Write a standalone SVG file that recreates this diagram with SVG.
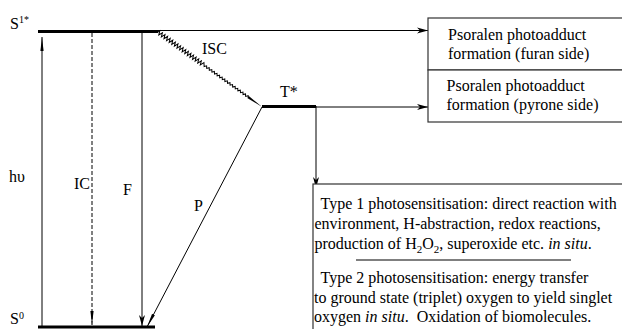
<svg xmlns="http://www.w3.org/2000/svg" width="622" height="329" viewBox="0 0 622 329" font-family="'Liberation Serif', 'DejaVu Serif', serif">
<style>
text{font-family:'Liberation Serif','DejaVu Serif',serif;font-size:16px;fill:#000}
.ln{stroke:#000;stroke-width:1;fill:none}
.lvl{stroke:#000;stroke-width:3;fill:none}
.box{stroke:#333;stroke-width:1.2;fill:#fff}
</style>
<defs>
<marker id="ah" markerUnits="userSpaceOnUse" markerWidth="12" markerHeight="7" refX="11" refY="3.5" orient="auto">
<path d="M0,0.5 L11,3.5 L0,6.5 L3,3.5 z" fill="#000"/>
</marker>
<marker id="slim" markerUnits="userSpaceOnUse" markerWidth="15" markerHeight="4" refX="14" refY="2" orient="auto">
<path d="M0,0.4 L14,2 L0,3.6 z" fill="#000"/>
</marker>
</defs>

<g id="levels">
<line class="lvl" x1="38" y1="31.5" x2="158" y2="31.5"/>
<line class="lvl" x1="262" y1="106.5" x2="316" y2="106.5"/>
<line class="lvl" x1="38" y1="327" x2="155" y2="327"/>
</g>

<g id="connectors">
<line class="ln" x1="158" y1="30.5" x2="428" y2="30.5" marker-end="url(#ah)"/>
<line class="ln" x1="316" y1="107" x2="428" y2="107" marker-end="url(#ah)"/>
<line class="ln" x1="316" y1="106" x2="316" y2="188" marker-end="url(#ah)"/>
<line class="ln" x1="42" y1="326" x2="42" y2="37" marker-end="url(#slim)"/>
<line class="ln" x1="92" y1="33" x2="92" y2="325" stroke-dasharray="4,2" marker-end="url(#slim)"/>
<line class="ln" x1="142" y1="33" x2="142" y2="326" marker-end="url(#ah)"/>
<line class="ln" x1="262" y1="107" x2="147" y2="327" marker-end="url(#slim)"/>
<g id="isc" transform="translate(158,32) rotate(35.8)">
<path class="ln" stroke-width="0.9" d="M0,0 l0.8,-2 l1.6,4 l1.6,-4 l1.6,4 l1.6,-4 l1.6,4 l1.6,-4 l1.6,4 l1.6,-4 l1.6,4 l1.6,-4 l1.6,4 l1.6,-4 l1.6,4 l1.6,-4 l1.6,4 l1.6,-4 l1.6,4 l1.6,-4 l1.6,4 l1.6,-4 l1.6,4 l1.6,-4 l1.6,4 l1.6,-4 l1.6,4 l1.6,-4 l1.6,4 l1.6,-4 l1.6,4 l1.6,-4 l1.6,4 l1.6,-4 l1.6,4 l1.6,-4 l0.8,1 l1.6,2 l1.6,-2 l1.6,2 l1.6,-2 l1.6,2 l1.6,-2 l1.6,2 l1.6,-2 l1.6,2 l1.6,-2 l1.6,2 l1.6,-2 l1.6,2 l1.6,-2 l1.6,2 l1.6,-2 l1.6,2 l1.6,-2 l1.6,2 l1.6,-2 l1.6,2 l1.6,-2 l1.6,2 l1.6,-2 l1.6,2 l1.6,-2 l1.6,2 l1.6,-2 l1.6,2 l1.6,-2 l1.6,2 l1.6,-2 l1.6,2 l1.6,-2 l0.8,1"/>
<path d="M111,-1.3 L128,0 L111,1.3 z" fill="#000"/>
</g>
</g>

<g id="labels">
<text x="10" y="28.5">S<tspan font-size="10" dy="-6">1*</tspan></text>
<text x="9" y="182">hυ</text>
<text x="74" y="189">IC</text>
<text x="123" y="195">F</text>
<text x="194" y="211">P</text>
<text x="202" y="54">ISC</text>
<text x="280" y="97">T*</text>
<text x="10" y="323.5">S<tspan font-size="10" dy="-5">0</tspan></text>
</g>

<g id="box-furan">
<rect class="box" x="428" y="18" width="210" height="52"/>
<text x="448" y="40">Psoralen photoadduct</text>
<text x="448" y="59">formation (furan side)</text>
</g>
<g id="box-pyrone">
<rect class="box" x="428" y="70" width="210" height="52"/>
<text x="446.5" y="91">Psoralen photoadduct</text>
<text x="446.5" y="110">formation (pyrone side)</text>
</g>

<g id="box-type">
<rect class="box" x="313" y="184" width="330" height="160"/>
<text x="320.5" y="208.5">Type 1 photosensitisation: direct reaction with</text>
<text x="314.5" y="228.5">environment, H-abstraction, redox reactions,</text>
<text x="314.5" y="248.5">production of H<tspan font-size="11" dy="4">2</tspan><tspan dy="-4">O</tspan><tspan font-size="11" dy="4">2</tspan><tspan dy="-4">, superoxide etc. </tspan><tspan font-style="italic">in situ</tspan>.</text>
<line x1="356" y1="260" x2="571" y2="260" stroke="#000" stroke-width="1.2"/>
<text x="320.5" y="283">Type 2 photosensitisation: energy transfer</text>
<text x="314" y="303">to ground state (triplet) oxygen to yield singlet</text>
<text x="314" y="322" style="white-space:pre">oxygen <tspan font-style="italic">in situ</tspan>.  Oxidation of biomolecules.</text>
</g>
</svg>
